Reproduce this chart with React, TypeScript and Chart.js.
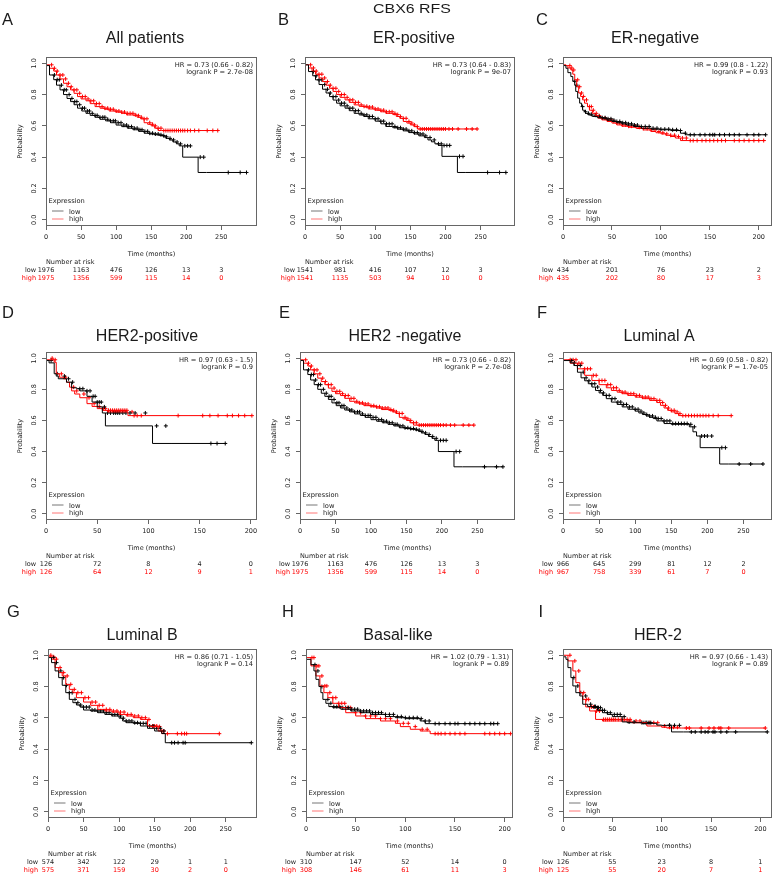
import React, { useEffect, useRef } from "react";
import { Chart, registerables } from "chart.js";

Chart.register(...registerables);

// ---------------- DATA ----------------
const SUPER_TITLE = "CBX6 RFS";
const Y_TICKS = [0, 0.2, 0.4, 0.6, 0.8, 1.0];
const Y_TICK_LABELS = ["0.0", "0.2", "0.4", "0.6", "0.8", "1.0"];
const X_TICKS_250 = [0, 50, 100, 150, 200, 250];
const X_TICKS_200 = [0, 50, 100, 150, 200];
const GROUPS = ["low", "high"];

// A: All patients (same cohort as E: HER2 -negative)
const A_LOW_T = [0, 5, 11, 15, 20, 25, 30, 35, 40, 45, 51, 57, 63, 70, 77, 85, 92, 100, 108, 116, 124, 132, 140, 148, 155, 162, 167, 171, 176, 181, 186, 190, 195, 217, 229, 286];
const A_LOW_S = [1.0, 0.985, 0.925, 0.895, 0.86, 0.83, 0.8, 0.775, 0.755, 0.735, 0.713, 0.695, 0.68, 0.667, 0.655, 0.642, 0.632, 0.62, 0.605, 0.595, 0.585, 0.575, 0.565, 0.553, 0.548, 0.543, 0.538, 0.53, 0.52, 0.51, 0.497, 0.485, 0.472, 0.4, 0.302, 0.302];
const A_LOW_C = [12, 16, 19, 22, 26, 29, 33, 37, 41, 44, 48, 52, 55, 59, 62, 66, 70, 73, 77, 81, 84, 88, 92, 96, 99, 103, 107, 111, 115, 118, 122, 126, 130, 134, 137, 141, 145, 148, 152, 156, 160, 164, 168, 172, 177, 182, 187, 192, 198, 202, 206, 220, 225, 260, 277, 286];
const A_HIGH_T = [0, 5, 11, 15, 20, 25, 30, 35, 40, 45, 50, 57, 63, 70, 77, 84, 90, 100, 108, 115, 125, 130, 135, 140, 145, 150, 155, 160, 165, 245];
const A_HIGH_S = [1.0, 0.99, 0.968, 0.95, 0.925, 0.9, 0.872, 0.85, 0.83, 0.808, 0.787, 0.772, 0.76, 0.742, 0.723, 0.713, 0.706, 0.695, 0.688, 0.68, 0.67, 0.665, 0.655, 0.645, 0.62, 0.61, 0.6, 0.585, 0.57, 0.57];
const A_HIGH_C = [8, 12, 16, 20, 24, 28, 32, 36, 40, 44, 48, 52, 56, 60, 64, 68, 72, 76, 80, 84, 88, 92, 96, 100, 104, 108, 112, 116, 120, 124, 128, 132, 136, 140, 144, 148, 152, 156, 160, 164, 168, 171, 174, 177, 180, 183, 186, 189, 192, 195, 198, 202, 206, 212, 218, 230, 238, 245];
const A_RISK_LOW = [1976, 1163, 476, 126, 13, 3];
const A_RISK_HIGH = [1975, 1356, 599, 115, 14, 0];

// B: ER-positive
const B_LOW_T = [0, 5, 11, 15, 20, 25, 30, 35, 40, 45, 50, 57, 63, 70, 77, 84, 90, 100, 108, 115, 125, 132, 140, 148, 155, 162, 170, 175, 180, 185, 190, 195, 217, 229, 286];
const B_LOW_S = [1.0, 0.99, 0.947, 0.92, 0.894, 0.864, 0.834, 0.81, 0.787, 0.765, 0.745, 0.728, 0.713, 0.697, 0.68, 0.67, 0.66, 0.645, 0.63, 0.613, 0.596, 0.588, 0.579, 0.568, 0.557, 0.548, 0.536, 0.525, 0.51, 0.498, 0.485, 0.475, 0.405, 0.302, 0.302];
const B_LOW_C = [12, 16, 20, 24, 28, 32, 36, 40, 44, 48, 52, 56, 60, 64, 68, 72, 76, 80, 84, 88, 92, 96, 100, 104, 108, 112, 116, 120, 124, 128, 132, 136, 140, 144, 148, 152, 156, 160, 164, 168, 172, 178, 184, 190, 194, 198, 202, 206, 220, 225, 260, 277, 286];
const B_HIGH_T = [0, 5, 10, 15, 20, 25, 30, 35, 40, 45, 50, 57, 63, 70, 77, 84, 90, 100, 108, 115, 125, 130, 135, 140, 145, 150, 155, 160, 163, 245];
const B_HIGH_S = [1.0, 0.99, 0.97, 0.95, 0.93, 0.906, 0.883, 0.86, 0.84, 0.82, 0.8, 0.782, 0.766, 0.75, 0.734, 0.725, 0.72, 0.708, 0.7, 0.69, 0.68, 0.672, 0.66, 0.648, 0.628, 0.618, 0.606, 0.595, 0.58, 0.58];
const B_HIGH_C = [8, 12, 16, 20, 24, 28, 32, 36, 40, 44, 48, 52, 56, 60, 64, 68, 72, 76, 80, 84, 88, 92, 96, 100, 104, 108, 112, 116, 120, 124, 128, 132, 136, 140, 144, 148, 152, 156, 160, 164, 167, 170, 173, 176, 179, 182, 185, 188, 191, 194, 197, 200, 205, 210, 218, 230, 238, 245];
const B_RISK_LOW = [1541, 981, 416, 107, 12, 3];
const B_RISK_HIGH = [1541, 1135, 503, 94, 10, 0];

// C: ER-negative
const C_LOW_T = [0, 3, 5, 8, 10, 12, 13, 15, 17, 19, 20, 22, 23, 25, 27, 30, 35, 40, 45, 50, 55, 60, 65, 72, 80, 90, 100, 110, 120, 125, 128, 207];
const C_LOW_S = [1.0, 0.985, 0.968, 0.94, 0.915, 0.885, 0.86, 0.82, 0.777, 0.745, 0.723, 0.7, 0.69, 0.68, 0.674, 0.668, 0.66, 0.652, 0.645, 0.636, 0.628, 0.62, 0.613, 0.605, 0.596, 0.585, 0.579, 0.575, 0.57, 0.553, 0.543, 0.543];
const C_LOW_C = [12, 14, 20, 23, 26, 29, 33, 37, 40, 43, 46, 49, 52, 55, 58, 61, 64, 67, 70, 73, 76, 80, 84, 88, 92, 96, 100, 104, 108, 112, 116, 120, 125, 130, 134, 140, 145, 150, 153, 155, 160, 165, 170, 175, 180, 188, 195, 200, 207];
const C_HIGH_T = [0, 3, 5, 8, 10, 12, 14, 16, 18, 20, 22, 25, 27, 30, 33, 36, 40, 45, 50, 55, 60, 67, 75, 82, 90, 95, 100, 105, 110, 115, 120, 128, 207];
const C_HIGH_S = [1.0, 0.99, 0.985, 0.97, 0.957, 0.93, 0.894, 0.85, 0.81, 0.788, 0.766, 0.745, 0.723, 0.7, 0.68, 0.665, 0.649, 0.638, 0.628, 0.618, 0.606, 0.598, 0.591, 0.583, 0.574, 0.564, 0.556, 0.549, 0.54, 0.532, 0.522, 0.506, 0.506];
const C_HIGH_C = [7, 9, 11, 15, 17, 19, 21, 24, 27, 29, 31, 34, 37, 40, 43, 46, 49, 52, 55, 58, 61, 64, 67, 70, 74, 78, 82, 86, 90, 94, 98, 102, 106, 110, 114, 118, 122, 126, 130, 133, 137, 142, 146, 150, 154, 158, 162, 166, 175, 180, 185, 190, 195, 200, 205];
const C_RISK_LOW = [434, 201, 76, 23, 2];
const C_RISK_HIGH = [435, 202, 80, 17, 3];

// D: HER2-positive
const D_LOW_T = [0, 3, 8, 10, 12, 20, 25, 30, 33, 40, 45, 50, 55, 58, 104, 123, 175];
const D_LOW_S = [1.0, 0.985, 0.97, 0.9, 0.885, 0.868, 0.846, 0.81, 0.804, 0.79, 0.755, 0.718, 0.687, 0.648, 0.565, 0.452, 0.452];
const D_LOW_C = [5, 11, 18, 22, 26, 33, 36, 40, 43, 46, 48, 50, 52, 54, 57, 60, 63, 66, 68, 70, 72, 75, 78, 82, 87, 97, 108, 117, 161, 167, 175];
const D_HIGH_T = [0, 8, 10, 13, 17, 20, 23, 25, 28, 33, 40, 45, 50, 55, 60, 80, 85, 201];
const D_HIGH_S = [1.0, 0.99, 0.974, 0.9, 0.878, 0.868, 0.846, 0.814, 0.79, 0.77, 0.746, 0.708, 0.69, 0.676, 0.665, 0.655, 0.631, 0.631];
const D_HIGH_C = [6, 9, 15, 19, 27, 30, 37, 42, 47, 52, 56, 58, 61, 63, 65, 67, 69, 71, 73, 75, 77, 79, 84, 86, 89, 93, 129, 153, 160, 168, 177, 182, 188, 194, 201];
const D_RISK_LOW = [126, 72, 8, 4, 0];
const D_RISK_HIGH = [126, 64, 12, 9, 1];

// E: HER2 -negative (same values as A)
const E_LOW_T = A_LOW_T;
const E_LOW_S = A_LOW_S;
const E_LOW_C = A_LOW_C;
const E_HIGH_T = A_HIGH_T;
const E_HIGH_S = A_HIGH_S;
const E_HIGH_C = A_HIGH_C;
const E_RISK_LOW = [1976, 1163, 476, 126, 13, 3];
const E_RISK_HIGH = [1975, 1356, 599, 115, 14, 0];

// F: Luminal A
const F_LOW_T = [0, 10, 15, 20, 25, 30, 35, 40, 45, 50, 55, 60, 67, 75, 82, 90, 100, 105, 110, 115, 120, 125, 130, 140, 150, 175, 180, 185, 190, 217, 229, 277];
const F_LOW_S = [1.0, 0.985, 0.97, 0.953, 0.91, 0.874, 0.855, 0.836, 0.815, 0.793, 0.777, 0.761, 0.74, 0.718, 0.703, 0.687, 0.672, 0.66, 0.648, 0.638, 0.629, 0.62, 0.612, 0.597, 0.58, 0.575, 0.559, 0.527, 0.5, 0.425, 0.32, 0.32];
const F_LOW_C = [12, 16, 20, 24, 28, 32, 36, 40, 44, 48, 52, 56, 60, 64, 68, 72, 76, 80, 84, 88, 92, 96, 100, 104, 108, 112, 116, 120, 124, 128, 132, 136, 140, 144, 148, 152, 156, 160, 164, 168, 172, 177, 182, 192, 196, 200, 206, 220, 225, 244, 260, 277];
const F_HIGH_T = [0, 10, 20, 30, 40, 50, 60, 67, 75, 82, 90, 100, 110, 120, 130, 135, 140, 145, 150, 155, 160, 165, 233];
const F_HIGH_S = [1.0, 0.99, 0.968, 0.932, 0.89, 0.857, 0.83, 0.81, 0.793, 0.782, 0.772, 0.761, 0.75, 0.74, 0.729, 0.715, 0.697, 0.68, 0.665, 0.655, 0.644, 0.631, 0.631];
const F_HIGH_C = [10, 14, 18, 22, 26, 30, 34, 38, 42, 46, 50, 54, 58, 62, 66, 70, 74, 78, 82, 86, 90, 94, 98, 102, 106, 110, 114, 118, 122, 126, 130, 134, 138, 142, 146, 150, 154, 158, 162, 166, 170, 174, 178, 182, 186, 190, 194, 198, 202, 208, 215, 233];
const F_RISK_LOW = [966, 645, 299, 81, 12, 2];
const F_RISK_HIGH = [967, 758, 339, 61, 7, 0];

// G: Luminal B
const G_LOW_T = [0, 5, 10, 15, 20, 25, 30, 35, 40, 45, 50, 60, 70, 80, 90, 100, 105, 110, 120, 130, 140, 150, 160, 165, 172, 286];
const G_LOW_S = [1.0, 0.985, 0.953, 0.9, 0.857, 0.808, 0.761, 0.718, 0.697, 0.682, 0.669, 0.65, 0.644, 0.633, 0.622, 0.612, 0.598, 0.58, 0.569, 0.565, 0.548, 0.533, 0.516, 0.5, 0.441, 0.441];
const G_LOW_C = [8, 12, 18, 22, 26, 30, 34, 38, 42, 46, 50, 54, 58, 62, 66, 70, 74, 78, 82, 86, 90, 94, 98, 102, 106, 110, 114, 118, 122, 126, 130, 134, 138, 143, 148, 153, 158, 163, 174, 178, 183, 190, 193, 286];
const G_HIGH_T = [0, 5, 10, 15, 20, 25, 30, 35, 40, 50, 60, 70, 80, 90, 100, 110, 120, 130, 140, 145, 155, 160, 165, 241];
const G_HIGH_S = [1.0, 0.99, 0.975, 0.921, 0.889, 0.868, 0.814, 0.782, 0.761, 0.729, 0.701, 0.68, 0.654, 0.644, 0.637, 0.622, 0.612, 0.601, 0.59, 0.548, 0.544, 0.516, 0.499, 0.499];
const G_HIGH_C = [4, 8, 12, 17, 22, 27, 32, 37, 42, 47, 52, 57, 62, 67, 72, 77, 82, 87, 92, 97, 102, 107, 112, 117, 122, 127, 132, 137, 142, 147, 150, 153, 157, 160, 163, 168, 182, 188, 192, 195, 241];
const G_RISK_LOW = [574, 342, 122, 29, 1, 1];
const G_RISK_HIGH = [575, 371, 159, 30, 2, 0];

// H: Basal-like
const H_LOW_T = [0, 5, 8, 10, 13, 15, 17, 20, 23, 27, 35, 45, 55, 65, 80, 90, 100, 115, 120, 128, 193];
const H_LOW_S = [1.0, 0.974, 0.94, 0.9, 0.846, 0.8, 0.761, 0.718, 0.693, 0.672, 0.665, 0.655, 0.644, 0.633, 0.622, 0.608, 0.601, 0.595, 0.58, 0.563, 0.563];
const H_LOW_C = [9, 12, 16, 22, 25, 28, 31, 34, 37, 40, 43, 46, 49, 52, 55, 58, 61, 64, 67, 70, 73, 76, 80, 84, 88, 92, 96, 100, 104, 108, 112, 116, 120, 124, 130, 134, 140, 145, 150, 153, 160, 165, 170, 175, 180, 186, 189, 193];
const H_HIGH_T = [0, 5, 10, 14, 18, 22, 27, 33, 40, 50, 60, 75, 90, 95, 105, 115, 125, 128, 206];
const H_HIGH_S = [1.0, 0.985, 0.932, 0.868, 0.804, 0.761, 0.729, 0.693, 0.665, 0.633, 0.612, 0.595, 0.58, 0.565, 0.544, 0.527, 0.516, 0.499, 0.499];
const H_HIGH_C = [6, 8, 11, 13, 16, 19, 21, 24, 27, 30, 33, 36, 39, 42, 45, 50, 55, 60, 65, 70, 75, 80, 85, 92, 98, 103, 110, 117, 122, 130, 133, 136, 140, 145, 150, 155, 160, 180, 185, 190, 195, 200, 206];
const H_RISK_LOW = [310, 147, 52, 14, 0];
const H_RISK_HIGH = [308, 146, 61, 11, 3];

// I: HER-2
const I_LOW_T = [0, 3, 5, 8, 10, 13, 17, 20, 25, 30, 35, 40, 45, 50, 60, 65, 80, 95, 100, 110, 122, 207];
const I_LOW_S = [1.0, 0.99, 0.974, 0.921, 0.857, 0.804, 0.761, 0.74, 0.687, 0.672, 0.665, 0.648, 0.633, 0.622, 0.608, 0.574, 0.569, 0.565, 0.554, 0.552, 0.51, 0.51];
const I_LOW_C = [11, 15, 18, 23, 28, 32, 33, 35, 36, 38, 40, 42, 45, 48, 52, 55, 58, 62, 67, 72, 80, 82, 84, 85, 87, 89, 108, 113, 118, 130, 134, 140, 144, 147, 152, 154, 160, 166, 175, 207];
const I_HIGH_T = [0, 5, 10, 13, 17, 20, 23, 27, 33, 40, 70, 85, 100, 105, 120, 205];
const I_HIGH_S = [1.0, 1.0, 0.964, 0.9, 0.825, 0.761, 0.718, 0.67, 0.644, 0.59, 0.58, 0.569, 0.548, 0.54, 0.535, 0.535];
const I_HIGH_C = [7, 12, 16, 21, 24, 26, 29, 31, 34, 37, 41, 43, 45, 47, 49, 51, 53, 56, 59, 62, 65, 68, 74, 78, 88, 92, 96, 103, 108, 112, 116, 125, 128, 140, 148, 153, 158, 160, 168, 205];
const I_RISK_LOW = [126, 55, 23, 8, 1];
const I_RISK_HIGH = [125, 55, 20, 7, 1];

// ---------------- LAYOUT ----------------
const CELL_X = [0, 262, 520];
const CELL_W = [262, 258, 257];
const CELL_Y = [0, 290, 580];
const CELL_H = [290, 290, 294];

type Spec = {
  letter: string;
  title: string;
  hr: string;
  p: string;
  col: number;
  row: number;
  frame: [number, number, number, number]; // left, right, top, bottom (page px)
  xMax: number;
  xTicks: number[];
  letterX: number;
  letterY: number;
  titleX: number;
  titleY: number;
  header?: boolean;
  lowT: number[]; lowS: number[]; lowC: number[];
  highT: number[]; highS: number[]; highC: number[];
  riskLow: number[]; riskHigh: number[];
};

const SPECS: Spec[] = [
  { letter: "A", title: "All patients", hr: "HR = 0.73 (0.66 - 0.82)", p: "logrank P = 2.7e-08", col: 0, row: 0, frame: [46, 258, 57, 226], xMax: 301, xTicks: X_TICKS_250, letterX: 2, letterY: 25, titleX: 145, titleY: 43.3,
    lowT: A_LOW_T, lowS: A_LOW_S, lowC: A_LOW_C, highT: A_HIGH_T, highS: A_HIGH_S, highC: A_HIGH_C, riskLow: A_RISK_LOW, riskHigh: A_RISK_HIGH },
  { letter: "B", title: "ER-positive", hr: "HR = 0.73 (0.64 - 0.83)", p: "logrank P = 9e-07", col: 1, row: 0, frame: [305, 516, 57, 226], xMax: 299, xTicks: X_TICKS_250, letterX: 278, letterY: 25, titleX: 414, titleY: 43.3, header: true,
    lowT: B_LOW_T, lowS: B_LOW_S, lowC: B_LOW_C, highT: B_HIGH_T, highS: B_HIGH_S, highC: B_HIGH_C, riskLow: B_RISK_LOW, riskHigh: B_RISK_HIGH },
  { letter: "C", title: "ER-negative", hr: "HR = 0.99 (0.8 - 1.22)", p: "logrank P = 0.93", col: 2, row: 0, frame: [563, 774, 57, 226], xMax: 213.5, xTicks: X_TICKS_200, letterX: 536, letterY: 25, titleX: 655, titleY: 43.3,
    lowT: C_LOW_T, lowS: C_LOW_S, lowC: C_LOW_C, highT: C_HIGH_T, highS: C_HIGH_S, highC: C_HIGH_C, riskLow: C_RISK_LOW, riskHigh: C_RISK_HIGH },
  { letter: "D", title: "HER2-positive", hr: "HR = 0.97 (0.63 - 1.5)", p: "logrank P = 0.9", col: 0, row: 1, frame: [46, 257, 352, 520], xMax: 206, xTicks: X_TICKS_200, letterX: 2, letterY: 318.3, titleX: 147, titleY: 340.5,
    lowT: D_LOW_T, lowS: D_LOW_S, lowC: D_LOW_C, highT: D_HIGH_T, highS: D_HIGH_S, highC: D_HIGH_C, riskLow: D_RISK_LOW, riskHigh: D_RISK_HIGH },
  { letter: "E", title: "HER2 -negative", hr: "HR = 0.73 (0.66 - 0.82)", p: "logrank P = 2.7e-08", col: 1, row: 1, frame: [300, 515, 352, 520], xMax: 303, xTicks: X_TICKS_250, letterX: 279, letterY: 318.3, titleX: 405, titleY: 340.5,
    lowT: E_LOW_T, lowS: E_LOW_S, lowC: E_LOW_C, highT: E_HIGH_T, highS: E_HIGH_S, highC: E_HIGH_C, riskLow: E_RISK_LOW, riskHigh: E_RISK_HIGH },
  { letter: "F", title: "Luminal A", hr: "HR = 0.69 (0.58 - 0.82)", p: "logrank P = 1.7e-05", col: 2, row: 1, frame: [563, 775, 352, 520], xMax: 289.5, xTicks: X_TICKS_250, letterX: 537, letterY: 318.3, titleX: 659, titleY: 340.5,
    lowT: F_LOW_T, lowS: F_LOW_S, lowC: F_LOW_C, highT: F_HIGH_T, highS: F_HIGH_S, highC: F_HIGH_C, riskLow: F_RISK_LOW, riskHigh: F_RISK_HIGH },
  { letter: "G", title: "Luminal B", hr: "HR = 0.86 (0.71 - 1.05)", p: "logrank P = 0.14", col: 0, row: 2, frame: [48, 258, 649, 818], xMax: 294, xTicks: X_TICKS_250, letterX: 7, letterY: 617.3, titleX: 142, titleY: 640,
    lowT: G_LOW_T, lowS: G_LOW_S, lowC: G_LOW_C, highT: G_HIGH_T, highS: G_HIGH_S, highC: G_HIGH_C, riskLow: G_RISK_LOW, riskHigh: G_RISK_HIGH },
  { letter: "H", title: "Basal-like", hr: "HR = 1.02 (0.79 - 1.31)", p: "logrank P = 0.89", col: 1, row: 2, frame: [306, 513, 649, 818], xMax: 208.4, xTicks: X_TICKS_200, letterX: 282, letterY: 617.3, titleX: 398, titleY: 640,
    lowT: H_LOW_T, lowS: H_LOW_S, lowC: H_LOW_C, highT: H_HIGH_T, highS: H_HIGH_S, highC: H_HIGH_C, riskLow: H_RISK_LOW, riskHigh: H_RISK_HIGH },
  { letter: "I", title: "HER-2", hr: "HR = 0.97 (0.66 - 1.43)", p: "logrank P = 0.89", col: 2, row: 2, frame: [563, 772, 649, 818], xMax: 211.8, xTicks: X_TICKS_200, letterX: 538.5, letterY: 617.3, titleX: 658, titleY: 640,
    lowT: I_LOW_T, lowS: I_LOW_S, lowC: I_LOW_C, highT: I_HIGH_T, highS: I_HIGH_S, highC: I_HIGH_C, riskLow: I_RISK_LOW, riskHigh: I_RISK_HIGH },
];

const LOW_COLOR = "#000000";
const HIGH_COLOR = "#ff0000";
const FRAME_COLOR = "#666666";
const TEXT_COLOR = "#1a1a1a";
const SMALL_FONT = "6.5px 'DejaVu Sans'";
const HR_FONT = "6.7px 'DejaVu Sans'";
const TITLE_FONT = "16px 'Liberation Sans'";
const LETTER_FONT = "16.5px 'Liberation Sans'";

function curvePoints(ts: number[], ss: number[]) {
  return ts.map((t, i) => ({ x: t, y: ss[i] }));
}

// value of the step function at time t (lookup of the drawn curve)
function survAt(ts: number[], ss: number[], t: number) {
  let v = ss[0];
  for (let i = 0; i < ts.length; i++) if (ts[i] <= t) v = ss[i];
  return v;
}

function censorPoints(ts: number[], ss: number[], cs: number[]) {
  return cs.map((c) => ({ x: c, y: survAt(ts, ss, c) }));
}

function makePlugin(spec: Spec) {
  return {
    id: "kmText" + spec.letter,
    afterDraw(chart: any) {
      const ctx: CanvasRenderingContext2D = chart.ctx;
      const { left, right, top, bottom } = chart.chartArea;
      const xs = chart.scales.x;
      const ys = chart.scales.y;
      const ox = CELL_X[spec.col];
      const oy = CELL_Y[spec.row];
      ctx.save();

      // frame
      ctx.strokeStyle = FRAME_COLOR;
      ctx.lineWidth = 1;
      ctx.strokeRect(left + 0.5, top + 0.5, right - left - 1, bottom - top - 1);

      ctx.fillStyle = TEXT_COLOR;
      ctx.textBaseline = "alphabetic";

      // letter + title
      ctx.font = LETTER_FONT;
      ctx.textAlign = "left";
      ctx.fillText(spec.letter, spec.letterX - ox, spec.letterY - oy);
      ctx.font = TITLE_FONT;
      ctx.textAlign = "center";
      ctx.fillText(spec.title, spec.titleX - ox, spec.titleY - oy);
      if (spec.header) {
        ctx.save();
        ctx.translate(412 - ox, 12.7 - oy);
        ctx.scale(1.18, 1);
        ctx.font = "13.5px 'Liberation Sans'";
        ctx.textAlign = "center";
        ctx.fillText(SUPER_TITLE, 0, 0);
        ctx.restore();
      }

      // x tick labels
      ctx.font = SMALL_FONT;
      ctx.textAlign = "center";
      spec.xTicks.forEach((v) => {
        ctx.fillText(String(v), xs.getPixelForValue(v), bottom + 13.3);
      });
      ctx.fillText("Time (months)", (left + right) / 2, bottom + 29.6);

      // y tick labels (rotated)
      Y_TICKS.forEach((v, i) => {
        ctx.save();
        ctx.translate(left - 10, ys.getPixelForValue(v));
        ctx.rotate(-Math.PI / 2);
        ctx.textAlign = "center";
        ctx.fillText(Y_TICK_LABELS[i], 0, 0);
        ctx.restore();
      });
      ctx.save();
      ctx.translate(left - 24.3, (top + bottom) / 2);
      ctx.rotate(-Math.PI / 2);
      ctx.textAlign = "center";
      ctx.fillText("Probability", 0, 0);
      ctx.restore();

      // HR text
      ctx.font = HR_FONT;
      ctx.textAlign = "right";
      ctx.fillText(spec.hr, right - 4, top + 9.7);
      ctx.fillText(spec.p, right - 4, top + 17);

      // legend
      ctx.font = HR_FONT;
      ctx.textAlign = "left";
      ctx.fillText("Expression", left + 2.5, bottom - 22.7);
      ctx.lineWidth = 1;
      ctx.strokeStyle = "#777777";
      ctx.beginPath();
      ctx.moveTo(left + 6, bottom - 15);
      ctx.lineTo(left + 17.5, bottom - 15);
      ctx.stroke();
      ctx.strokeStyle = "#ff7777";
      ctx.beginPath();
      ctx.moveTo(left + 6, bottom - 7);
      ctx.lineTo(left + 17.5, bottom - 7);
      ctx.stroke();
      ctx.fillText(GROUPS[0], left + 23, bottom - 12.5);
      ctx.fillText(GROUPS[1], left + 23, bottom - 4.8);

      // number at risk
      ctx.font = SMALL_FONT;
      ctx.textAlign = "left";
      ctx.fillText("Number at risk", left, bottom + 37.5);
      ctx.textAlign = "right";
      ctx.fillStyle = TEXT_COLOR;
      ctx.fillText(GROUPS[0], left - 10, bottom + 45.5);
      ctx.fillStyle = HIGH_COLOR;
      ctx.fillText(GROUPS[1], left - 10, bottom + 53.5);
      ctx.textAlign = "center";
      spec.xTicks.forEach((v, i) => {
        const px = xs.getPixelForValue(v);
        ctx.fillStyle = TEXT_COLOR;
        ctx.fillText(String(spec.riskLow[i]), px, bottom + 45.5);
        ctx.fillStyle = HIGH_COLOR;
        ctx.fillText(String(spec.riskHigh[i]), px, bottom + 53.5);
      });

      ctx.restore();
    },
  };
}

function KMPanel({ spec }: { spec: Spec }) {
  const ref = useRef<HTMLCanvasElement | null>(null);
  const cw = CELL_W[spec.col];
  const ch = CELL_H[spec.row];
  const cx = CELL_X[spec.col];
  const cy = CELL_Y[spec.row];

  useEffect(() => {
    if (!ref.current) return;
    const [L, R, T, B] = spec.frame;
    const markStyle = {
      showLine: false,
      pointStyle: "cross",
      pointRadius: 2,
      pointBorderWidth: 1,
    };
    const chart = new Chart(ref.current, {
      type: "line",
      data: {
        datasets: [
          { label: "low", data: curvePoints(spec.lowT, spec.lowS), borderColor: LOW_COLOR, borderWidth: 1, stepped: "after", pointRadius: 0, fill: false },
          { label: "high", data: curvePoints(spec.highT, spec.highS), borderColor: HIGH_COLOR, borderWidth: 1, stepped: "after", pointRadius: 0, fill: false },
          { label: "low censored", data: censorPoints(spec.lowT, spec.lowS, spec.lowC), borderColor: LOW_COLOR, pointBorderColor: LOW_COLOR, ...markStyle },
          { label: "high censored", data: censorPoints(spec.highT, spec.highS, spec.highC), borderColor: HIGH_COLOR, pointBorderColor: HIGH_COLOR, ...markStyle },
        ] as any,
      },
      options: {
        animation: false,
        responsive: false,
        maintainAspectRatio: false,
        devicePixelRatio: 1,
        events: [],
        layout: { padding: { left: L - cx, right: cx + cw - R, top: T - cy, bottom: cy + ch - B } },
        plugins: { legend: { display: false }, tooltip: { enabled: false }, title: { display: false } },
        scales: {
          x: {
            type: "linear",
            min: 0,
            max: spec.xMax,
            afterBuildTicks: (s: any) => { s.ticks = spec.xTicks.map((v) => ({ value: v })); },
            afterFit: (s: any) => { s.height = 0; },
            ticks: { display: false },
            grid: { drawOnChartArea: false, drawTicks: true, tickLength: 4, color: FRAME_COLOR },
            border: { display: false },
          },
          y: {
            type: "linear",
            min: -0.04,
            max: 1.04,
            afterBuildTicks: (s: any) => { s.ticks = Y_TICKS.map((v) => ({ value: v })); },
            afterFit: (s: any) => { s.width = 0; },
            ticks: { display: false },
            grid: { drawOnChartArea: false, drawTicks: true, tickLength: 4, color: FRAME_COLOR },
            border: { display: false },
          },
        },
      } as any,
      plugins: [makePlugin(spec)],
    });
    return () => chart.destroy();
  }, [spec]);

  return (
    <canvas
      ref={ref}
      width={cw}
      height={ch}
      style={{ position: "absolute", left: cx, top: cy, width: cw, height: ch }}
    />
  );
}

export default function App() {
  return (
    <div style={{ position: "fixed", left: 0, top: 0, width: 777, height: 874, background: "#ffffff", overflow: "hidden" }}>
      {SPECS.map((s) => (
        <KMPanel key={s.letter} spec={s} />
      ))}
    </div>
  );
}
